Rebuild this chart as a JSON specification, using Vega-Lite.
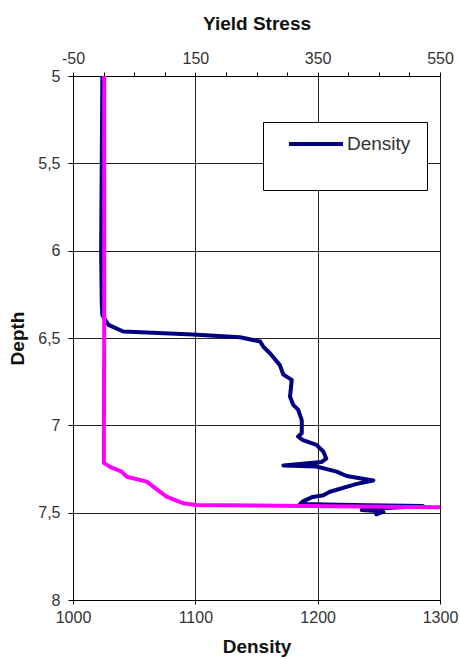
{
  "$schema": "https://vega.github.io/schema/vega-lite/v6.json",
  "width": 367,
  "height": 524,
  "autosize": {"type": "none"},
  "padding": {"left": 73, "top": 76, "right": 20, "bottom": 59},
  "background": "white",
  "config": {
    "font": "Liberation Sans",
    "view": {"stroke": "#000", "strokeWidth": 1},
    "axis": {
      "labelFont": "Liberation Sans",
      "labelFontSize": 16,
      "labelColor": "#333",
      "titleFont": "Liberation Sans",
      "titleFontSize": 19,
      "titleFontWeight": "bold",
      "titleColor": "#111",
      "domainColor": "#000",
      "tickColor": "#000",
      "gridColor": "#222",
      "gridOpacity": 1,
      "gridWidth": 1
    }
  },
  "datasets": {
    "density": [
      {"i": 1, "depth": 5.0, "density": 1024},
      {"i": 2, "depth": 5.5, "density": 1023.5},
      {"i": 3, "depth": 6.0, "density": 1023},
      {"i": 4, "depth": 6.3, "density": 1023.5},
      {"i": 5, "depth": 6.37, "density": 1024},
      {"i": 6, "depth": 6.425, "density": 1029},
      {"i": 7, "depth": 6.463, "density": 1041},
      {"i": 8, "depth": 6.48, "density": 1098},
      {"i": 9, "depth": 6.496, "density": 1136.5},
      {"i": 10, "depth": 6.52, "density": 1153},
      {"i": 11, "depth": 6.55, "density": 1155.6},
      {"i": 12, "depth": 6.587, "density": 1161},
      {"i": 13, "depth": 6.654, "density": 1169},
      {"i": 14, "depth": 6.71, "density": 1172},
      {"i": 15, "depth": 6.74, "density": 1178.8},
      {"i": 16, "depth": 6.835, "density": 1177.4},
      {"i": 17, "depth": 6.883, "density": 1180},
      {"i": 18, "depth": 6.91, "density": 1184},
      {"i": 19, "depth": 6.97, "density": 1187},
      {"i": 20, "depth": 7.045, "density": 1187},
      {"i": 21, "depth": 7.064, "density": 1184},
      {"i": 22, "depth": 7.084, "density": 1188},
      {"i": 23, "depth": 7.112, "density": 1199},
      {"i": 24, "depth": 7.15, "density": 1204.6},
      {"i": 25, "depth": 7.19, "density": 1207},
      {"i": 26, "depth": 7.21, "density": 1203},
      {"i": 27, "depth": 7.23, "density": 1172},
      {"i": 28, "depth": 7.236, "density": 1199},
      {"i": 29, "depth": 7.265, "density": 1215.5},
      {"i": 30, "depth": 7.29, "density": 1223.7},
      {"i": 31, "depth": 7.316, "density": 1245.5},
      {"i": 32, "depth": 7.335, "density": 1232},
      {"i": 33, "depth": 7.38, "density": 1210},
      {"i": 34, "depth": 7.4, "density": 1204.6},
      {"i": 35, "depth": 7.41, "density": 1196},
      {"i": 36, "depth": 7.435, "density": 1188},
      {"i": 37, "depth": 7.45, "density": 1185.6},
      {"i": 38, "depth": 7.458, "density": 1240},
      {"i": 39, "depth": 7.462, "density": 1286},
      {"i": 40, "depth": 7.472, "density": 1260},
      {"i": 41, "depth": 7.485, "density": 1236},
      {"i": 42, "depth": 7.49, "density": 1248},
      {"i": 43, "depth": 7.51, "density": 1248},
      {"i": 44, "depth": 7.49, "density": 1255}
    ],
    "yield": [
      {"i": 1, "depth": 5.0, "ys": 1},
      {"i": 2, "depth": 6.5, "ys": 1},
      {"i": 3, "depth": 7.0, "ys": 0.5},
      {"i": 4, "depth": 7.215, "ys": 0.5},
      {"i": 5, "depth": 7.238, "ys": 10.5},
      {"i": 6, "depth": 7.265, "ys": 29.6},
      {"i": 7, "depth": 7.294, "ys": 37.8},
      {"i": 8, "depth": 7.322, "ys": 70.5},
      {"i": 9, "depth": 7.38, "ys": 92},
      {"i": 10, "depth": 7.408, "ys": 103},
      {"i": 11, "depth": 7.446, "ys": 130},
      {"i": 12, "depth": 7.456, "ys": 152},
      {"i": 13, "depth": 7.469, "ys": 560}
    ]
  },
  "layer": [
    {
      "data": {"name": "density"},
      "mark": {"type": "line", "strokeWidth": 4, "clip": true, "strokeJoin": "round"},
      "encoding": {
        "x": {
          "field": "density",
          "type": "quantitative",
          "title": "Density",
          "scale": {"domain": [1000, 1300], "nice": false, "zero": false},
          "axis": {
            "orient": "bottom",
            "values": [1000, 1100, 1200, 1300],
            "format": "d",
            "grid": true,
            "tickSize": 4,
            "labelPadding": 5,
            "titlePadding": 12,
            "labelFlush": false
          }
        },
        "y": {
          "field": "depth",
          "type": "quantitative",
          "title": "Depth",
          "scale": {"domain": [5, 8], "reverse": true, "nice": false, "zero": false},
          "axis": {
            "values": [5, 5.5, 6, 6.5, 7, 7.5, 8],
            "grid": true,
            "tickSize": 5,
            "labelPadding": 8,
            "titlePadding": 10,
            "labelExpr": "replace(toString(datum.value), '.', ',')",
            "labelFlush": false
          }
        },
        "order": {"field": "i", "type": "quantitative"},
        "color": {
          "datum": "Density",
          "scale": {"range": ["#000080"]},
          "legend": {
            "title": "\u2800",
            "titleOrient": "bottom",
            "titleFontSize": 10,
            "titlePadding": 24,
            "orient": "none",
            "legendX": 190,
            "legendY": 46,
            "strokeColor": "#000",
            "fillColor": "white",
            "padding": 2,
            "symbolType": "M0.222,0H3.222",
            "symbolSize": 1296,
            "symbolStrokeWidth": 4,
            "labelFontSize": 19,
            "labelFont": "Liberation Sans",
            "labelColor": "#333",
            "labelOffset": 42,
            "labelExpr": "datum.label + '\u2800'"
          }
        }
      }
    },
    {
      "data": {"name": "yield"},
      "mark": {"type": "line", "strokeWidth": 4, "color": "#FF00FF", "clip": true, "strokeJoin": "round"},
      "encoding": {
        "x": {
          "field": "ys",
          "type": "quantitative",
          "title": "Yield Stress",
          "scale": {"domain": [-50, 550], "nice": false, "zero": false},
          "axis": {
            "orient": "top",
            "values": [-50, 0, 50, 100, 150, 200, 250, 300, 350, 400, 450, 500, 550],
            "labelExpr": "(datum.value + 50) % 200 == 0 ? toString(datum.value) : ''",
            "grid": false,
            "tickSize": 4,
            "labelPadding": 6,
            "titlePadding": 17,
            "labelFlush": false
          }
        },
        "y": {"field": "depth", "type": "quantitative"},
        "order": {"field": "i", "type": "quantitative"}
      }
    }
  ],
  "resolve": {"scale": {"x": "independent"}, "axis": {"x": "independent"}}
}
